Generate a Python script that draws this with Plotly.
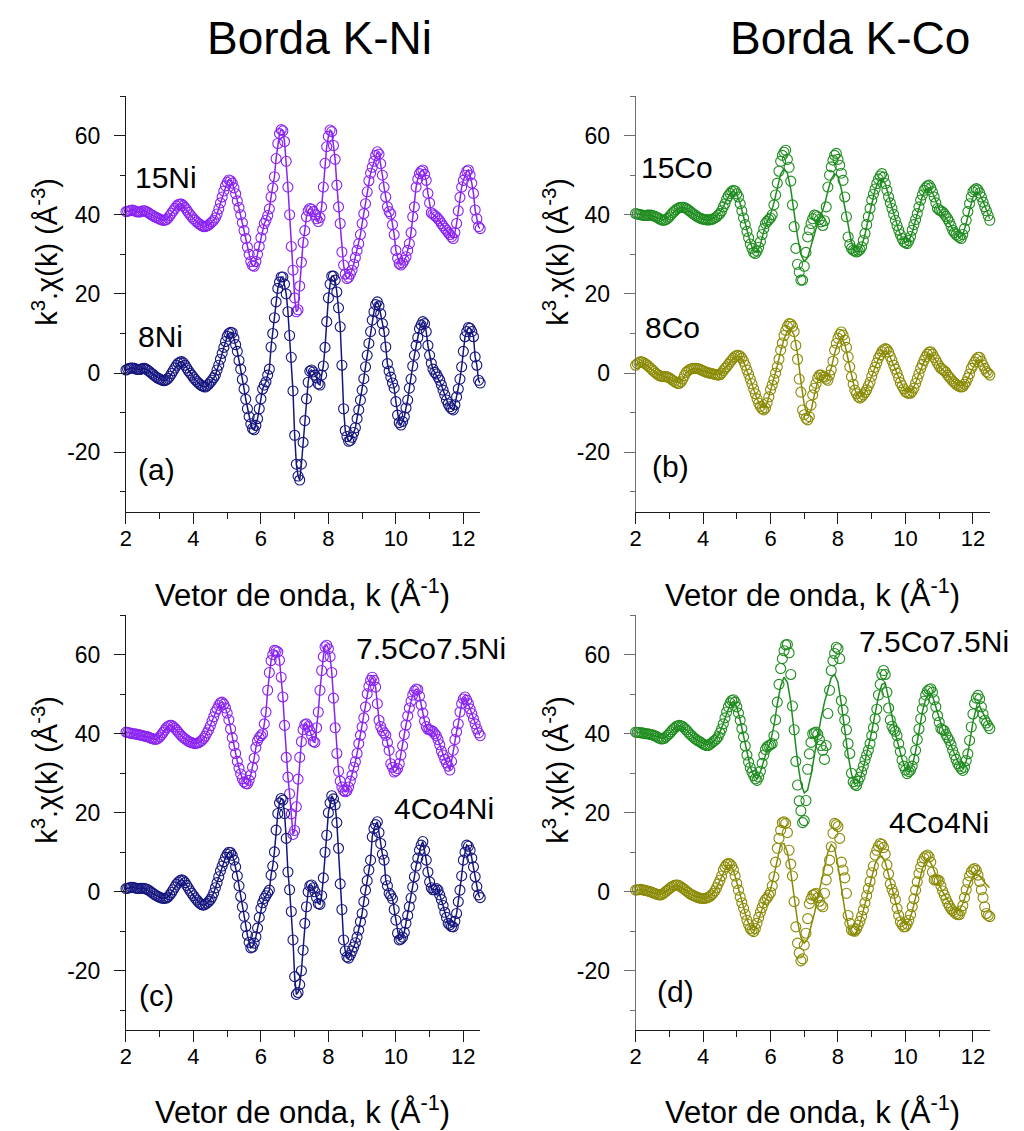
import numpy as np
import plotly.graph_objects as go

# k grids (Å^-1): values read at whole tenths and at the half-steps in between
K = np.round(np.arange(2.0, 12.501, 0.1), 2)
KH = np.round(np.arange(2.05, 12.46, 0.1), 2)

# ---------- Panel (a): Ni K-edge ----------
NI15 = [40.8, 41.0, 41.2, 40.8, 40.7, 41.0, 40.8, 40.3, 39.8, 39.3,
        38.9, 38.6, 38.8, 39.8, 41.0, 42.2, 42.7, 42.3, 41.2, 40.0,
        39.0, 38.2, 37.5, 37.0, 37.2, 37.8, 38.6, 40.2, 43.0, 46.0,
        48.2, 48.6, 46.8, 43.5, 40.0, 36.0, 31.8, 28.2, 27.0, 30.0,
        34.2, 37.8, 39.8, 44.5, 49.6, 58.0, 61.5, 58.5, 47.0, 32.0,
        19.0, 16.0, 28.0, 36.0, 41.0, 41.4, 40.0, 38.3, 42.0, 53.0,
        59.8, 61.0, 54.0, 42.0, 30.6, 25.0, 24.2, 26.0, 29.2, 32.7,
        37.8, 42.8, 48.6, 52.0, 55.0, 55.3, 50.0, 44.5, 40.8, 37.5,
        31.0, 27.7, 27.8, 29.4, 32.7, 39.5, 47.0, 50.4, 51.3, 48.7,
        43.0, 40.2, 39.5, 38.5, 37.2, 36.1, 35.0, 34.0, 37.8, 44.4,
        48.7, 51.0, 50.0, 45.4, 39.0, 36.5]
NI15_H = [40.9, 41.1, 41.0, 40.7, 40.8, 41.0, 40.6, 40.0, 39.5, 39.1,
          38.7, 38.6, 39.2, 40.4, 41.6, 42.6, 42.7, 41.8, 40.6, 39.5,
          38.6, 37.8, 37.2, 37.0, 37.4, 38.2, 39.2, 41.5, 44.5, 47.3,
          48.8, 48.0, 45.3, 41.8, 38.0, 34.0, 30.0, 27.2, 28.2, 32.0,
          36.2, 38.6, 41.5, 46.8, 54.2, 60.5, 61.2, 53.5, 40.0, 26.0,
          15.5, 22.0, 33.0, 39.5, 41.6, 40.8, 39.0, 39.3, 47.0, 57.2,
          61.4, 57.5, 47.5, 37.8, 27.3, 23.9, 25.0, 27.5, 31.0, 35.0,
          40.3, 45.8, 50.5, 53.5, 55.9, 52.9, 47.0, 42.0, 40.2, 35.0,
          29.0, 27.3, 28.5, 31.0, 35.5, 42.0, 49.0, 51.0, 50.2, 45.4,
          40.5, 39.8, 39.0, 37.8, 36.6, 35.5, 34.4, 35.5, 41.0, 47.0,
          50.0, 51.3, 48.0, 41.2, 37.0]
NI8 = [0.8, 1.2, 1.3, 1.0, 0.9, 1.2, 1.0, 0.4, -0.3, -1.0,
       -1.5, -1.9, -1.7, -0.8, 0.6, 2.0, 2.8, 2.6, 1.3, 0.0,
       -1.1, -2.1, -2.9, -3.4, -3.2, -2.3, -1.2, 0.8, 3.5, 6.5,
       9.3, 10.3, 8.8, 5.5, 1.0, -4.0, -9.0, -12.8, -14.3, -11.5,
       -6.5, -3.0, -0.5, 6.6, 14.0, 21.4, 24.3, 22.5, 15.5, 4.0,
       -15.7, -26.0, -23.0, -12.0, -2.3, 0.8, -0.5, -2.7, -0.5, 6.5,
       19.0, 24.5, 23.5, 16.5, 2.0, -14.5, -17.2, -16.2, -13.8, -9.3,
       -4.3, 1.6, 7.5, 13.4, 17.3, 17.0, 12.5, 6.6, 0.5, -2.5,
       -7.2, -12.5, -12.2, -8.8, -3.8, 1.8, 7.0, 11.2, 13.0, 10.5,
       4.5, 1.0, -0.2, -1.8, -4.3, -6.8, -8.5, -9.3, -6.0, -1.5,
       5.5, 10.5, 11.3, 9.2, 2.0, -2.5]
NI8_H = [1.0, 1.3, 1.2, 0.9, 1.0, 1.2, 0.7, 0.0, -0.7, -1.3,
         -1.7, -1.9, -1.3, -0.1, 1.3, 2.5, 2.9, 2.0, 0.6, -0.5,
         -1.6, -2.5, -3.2, -3.5, -2.8, -1.8, -0.5, 2.0, 5.0, 8.0,
         10.0, 10.2, 7.2, 3.2, -1.6, -6.6, -11.0, -14.0, -13.2, -9.0,
         -4.0, -2.2, 1.0, 10.0, 18.0, 23.0, 24.3, 20.0, 9.5, -4.5,
         -23.0, -27.0, -17.5, -6.5, 0.5, 0.3, -1.2, -3.0, 1.8, 13.0,
         22.5, 24.5, 20.5, 11.7, -9.0, -16.0, -17.0, -15.0, -11.5, -6.8,
         -1.4, 4.5, 10.5, 15.5, 18.0, 15.0, 10.5, 2.4, -1.0, -3.8,
         -10.6, -13.1, -11.0, -6.8, -1.5, 4.5, 9.0, 12.2, 12.5, 7.0,
         2.5, 0.2, -1.0, -3.0, -5.5, -7.8, -9.0, -8.0, -4.0, 1.6,
         9.2, 11.5, 10.5, 4.1, -1.8]

# ---------- Panel (b): Co K-edge ----------
CO15 = [40.3, 40.1, 39.9, 39.8, 39.9, 39.8, 39.5, 39.0, 38.6, 38.8,
        39.5, 40.5, 41.3, 41.8, 41.9, 41.6, 41.0, 40.3, 39.7, 39.2,
        38.9, 38.7, 38.7, 39.0, 39.5, 40.3, 42.0, 44.0, 45.4, 46.2,
        45.3, 42.8, 39.2, 35.8, 32.6, 30.5, 30.8, 33.2, 36.5, 38.3,
        39.2, 42.5, 48.0, 53.5, 55.8, 54.0, 48.5, 37.0, 27.5, 23.5,
        27.0, 34.4, 37.8, 39.9, 39.5, 38.2, 38.5, 47.0, 52.1, 55.0,
        54.0, 50.5, 44.5, 34.4, 31.5, 30.8, 30.8, 31.9, 35.3, 39.5,
        43.7, 46.5, 49.0, 50.4, 47.9, 44.5, 41.6, 38.6, 36.1, 34.0,
        32.9, 33.5, 36.1, 38.8, 42.0, 45.0, 46.8, 47.5, 45.8, 43.0,
        41.2, 40.7, 39.6, 38.2, 36.1, 35.0, 34.3, 35.0, 38.6, 42.8,
        45.8, 46.6, 45.5, 43.2, 41.0, 38.6]
CO15_H = [40.2, 40.0, 39.8, 39.9, 39.9, 39.7, 39.3, 38.8, 38.6, 39.1,
          40.0, 40.9, 41.6, 41.9, 41.8, 41.3, 40.6, 40.0, 39.4, 39.0,
          38.8, 38.7, 38.8, 39.2, 39.9, 41.0, 42.8, 44.8, 45.9, 46.0,
          44.5, 41.0, 37.5, 34.2, 31.5, 30.2, 31.8, 35.0, 37.8, 38.8,
          40.0, 45.0, 51.0, 55.0, 56.3, 52.0, 42.5, 31.5, 25.5, 23.5,
          30.5, 36.2, 39.0, 39.8, 38.8, 37.3, 42.0, 50.0, 53.8, 55.5,
          52.5, 48.7, 39.5, 32.5, 31.0, 30.6, 31.2, 33.5, 37.5, 41.6,
          45.2, 47.9, 49.8, 49.5, 46.2, 43.0, 40.1, 37.3, 35.0, 33.2,
          32.7, 34.5, 37.5, 40.3, 43.7, 46.2, 47.3, 46.8, 44.5, 41.6,
          41.0, 40.2, 39.0, 37.2, 35.5, 34.6, 34.0, 36.5, 40.8, 44.5,
          46.3, 46.3, 44.5, 42.0, 39.8]
CO15_FIT = [40.3, 40.1, 39.9, 39.8, 39.8, 39.7, 39.4, 39.0, 38.7, 38.9,
            39.5, 40.4, 41.2, 41.7, 41.8, 41.5, 41.0, 40.3, 39.7, 39.2,
            38.9, 38.7, 38.8, 39.1, 39.7, 40.6, 42.0, 43.8, 45.2, 45.9,
            45.2, 42.8, 39.4, 36.0, 33.0, 30.8, 30.5, 32.5, 35.8, 38.2,
            40.0, 43.0, 47.0, 50.3, 51.6, 50.5, 46.5, 40.5, 34.5, 30.0,
            28.2, 29.2, 32.0, 35.3, 38.0, 40.0, 42.5, 46.0, 49.0, 50.4,
            49.6, 46.5, 42.0, 37.0, 33.0, 30.8, 30.6, 32.0, 35.0, 39.0,
            43.0, 46.3, 48.5, 49.2, 47.8, 44.8, 41.5, 38.5, 36.0, 34.0,
            33.0, 33.4, 35.5, 38.6, 41.8, 44.6, 46.4, 46.8, 45.6, 43.4,
            41.4, 40.2, 39.2, 37.9, 36.3, 35.0, 34.3, 35.0, 37.8, 41.5,
            44.5, 45.8, 45.2, 43.4, 41.2, 39.0]
CO8 = [2.0, 2.7, 2.8, 2.3, 1.6, 0.8, 0.0, -0.6, -0.9, -0.8,
       -1.2, -1.8, -2.4, -2.6, -1.5, 0.2, 0.9, 1.2, 1.2, 1.0,
       0.6, 0.2, 0.0, -0.2, -0.4, -0.4, 0.6, 1.6, 2.8, 3.8,
       4.5, 4.3, 3.0, 0.8, -1.5, -4.0, -6.5, -8.4, -9.3, -7.5,
       -4.2, -1.6, 1.6, 5.8, 9.5, 11.8, 12.4, 10.5, 3.5, -4.8,
       -10.5, -11.8, -8.1, -3.8, -1.2, -0.5, -1.0, -1.8, 0.8, 5.8,
       8.8, 10.4, 8.3, 4.1, -0.9, -4.3, -6.0, -6.0, -4.9, -3.2,
       -0.8, 1.5, 3.8, 5.4, 6.2, 5.3, 3.2, 1.0, -1.2, -3.2,
       -4.7, -5.1, -4.6, -2.6, -0.2, 2.2, 4.1, 5.3, 4.8, 3.3,
       1.8, 0.9, 0.2, -1.0, -2.0, -2.8, -3.4, -3.4, -2.2, -0.2,
       2.0, 3.5, 4.0, 2.0, 0.4, -0.5]
CO8_H = [2.4, 2.9, 2.6, 2.0, 1.2, 0.4, -0.3, -0.8, -0.9, -1.0,
         -1.5, -2.1, -2.6, -2.2, -0.6, 0.6, 1.1, 1.2, 1.1, 0.8,
         0.4, 0.1, -0.1, -0.3, -0.5, 0.0, 1.2, 2.2, 3.3, 4.2,
         4.5, 3.8, 2.0, -0.3, -2.7, -5.2, -7.6, -9.0, -8.8, -6.0,
         -3.0, 0.0, 3.5, 7.6, 10.8, 12.5, 11.8, 7.0, -1.5, -9.3,
         -11.4, -11.0, -5.5, -2.6, -0.5, -0.9, -1.5, -0.5, 3.0, 7.5,
         9.8, 9.6, 6.5, 1.6, -2.8, -5.2, -6.3, -5.5, -4.2, -2.3,
         0.5, 2.6, 4.6, 5.9, 6.0, 4.2, 2.0, 0.0, -2.4, -4.0,
         -5.0, -5.1, -3.8, -1.4, 1.2, 3.2, 4.8, 5.4, 4.0, 2.5,
         1.2, 0.6, -0.5, -1.5, -2.4, -3.1, -3.5, -2.8, -1.2, 1.2,
         2.8, 4.0, 3.0, 1.2, 0.0]
CO8_FIT = [2.0, 2.6, 2.7, 2.2, 1.5, 0.8, 0.0, -0.5, -0.8, -0.9,
           -1.2, -1.8, -2.3, -2.4, -1.5, 0.0, 0.8, 1.1, 1.1, 0.9,
           0.6, 0.2, 0.0, -0.2, -0.3, -0.2, 0.6, 1.6, 2.8, 3.8,
           4.3, 4.1, 2.9, 0.8, -1.6, -4.1, -6.5, -8.2, -8.8, -7.5,
           -4.5, -1.5, 1.8, 5.5, 8.6, 10.6, 11.2, 9.6, 5.0, -2.0,
           -8.0, -10.8, -9.5, -5.5, -2.0, -0.5, -0.6, -0.8, 1.2, 5.0,
           7.8, 8.8, 7.4, 3.6, -0.8, -4.2, -5.8, -5.9, -4.8, -3.0,
           -0.8, 1.5, 3.6, 5.0, 5.6, 4.9, 3.0, 0.9, -1.2, -3.0,
           -4.4, -4.8, -4.3, -2.5, -0.2, 2.0, 3.8, 4.8, 4.5, 3.2,
           1.8, 0.9, 0.1, -0.9, -1.9, -2.7, -3.2, -3.2, -2.2, -0.4,
           1.6, 3.0, 3.4, 2.2, 0.6, -0.5]

# ---------- Panel (c): Ni K-edge, mixed samples ----------
CONI75_NI = [40.4, 40.2, 40.0, 39.9, 39.7, 39.5, 39.3, 39.0, 38.7, 38.6,
             39.2, 40.3, 41.5, 42.1, 41.8, 40.9, 39.9, 39.0, 38.4, 37.9,
             37.6, 37.6, 38.0, 38.8, 40.2, 42.0, 44.3, 46.3, 47.8, 47.5,
             45.2, 41.2, 37.0, 33.0, 29.8, 27.8, 27.3, 29.6, 33.8, 38.2,
             39.5, 42.5, 51.0, 58.5, 61.1, 60.7, 54.3, 42.1, 29.0, 19.7,
             15.5, 28.5, 38.0, 42.3, 41.8, 39.6, 37.8, 45.5, 56.0, 62.0,
             61.5, 55.5, 41.5, 30.5, 26.5, 25.3, 26.5, 29.5, 32.9, 37.5,
             41.7, 46.8, 52.0, 54.3, 51.8, 43.4, 40.8, 39.6, 35.8, 31.5,
             30.6, 32.4, 37.0, 42.2, 46.5, 49.8, 51.3, 49.5, 45.2, 41.8,
             41.0, 40.6, 39.5, 37.2, 34.6, 32.6, 30.8, 35.8, 40.5, 45.5,
             48.8, 48.5, 46.3, 43.8, 41.2, 39.5]
CONI75_NI_H = [40.3, 40.1, 40.0, 39.8, 39.6, 39.4, 39.2, 38.8, 38.6, 38.8,
               39.7, 40.9, 41.9, 42.1, 41.4, 40.4, 39.4, 38.7, 38.1, 37.7,
               37.5, 37.7, 38.3, 39.4, 41.0, 43.2, 45.5, 47.2, 48.0, 46.5,
               43.5, 39.0, 35.0, 31.3, 28.6, 27.4, 28.2, 31.5, 36.5, 39.0,
               40.0, 45.5, 55.5, 60.0, 61.0, 58.6, 49.3, 34.0, 24.8, 14.5,
               21.5, 34.0, 41.0, 42.5, 40.8, 38.0, 41.5, 51.0, 59.5, 62.4,
               59.5, 49.0, 35.0, 28.0, 25.6, 25.6, 28.0, 31.5, 35.0, 39.6,
               44.0, 50.1, 53.5, 53.5, 47.6, 41.8, 40.2, 37.8, 32.4, 30.3,
               31.2, 34.6, 39.8, 44.5, 48.2, 50.8, 51.2, 47.3, 43.2, 41.1,
               40.8, 40.0, 38.5, 35.6, 33.5, 31.8, 33.0, 38.5, 42.5, 47.6,
               49.3, 47.6, 45.1, 42.5, 40.2]
CONI4_NI = [0.8, 1.0, 1.1, 0.9, 0.8, 0.9, 0.7, 0.2, -0.4, -1.0,
            -1.4, -1.7, -1.6, -0.8, 0.5, 1.9, 2.8, 2.8, 1.6, 0.2,
            -1.0, -2.1, -3.0, -3.4, -2.9, -2.0, -0.3, 2.3, 5.3, 7.6,
            9.5, 9.9, 8.0, 4.0, -1.2, -6.2, -11.0, -14.2, -13.0, -9.2,
            -4.2, -1.7, -0.3, 4.2, 10.1, 19.8, 23.6, 19.8, 5.0, -5.0,
            -21.5, -25.5, -20.0, -8.0, 0.0, 1.7, 0.0, -3.0, -1.0, 10.0,
            20.0, 24.3, 22.0, 11.0, -4.5, -15.0, -16.8, -15.0, -12.9, -9.7,
            -5.5, 0.4, 5.5, 13.9, 17.0, 15.0, 9.5, 3.0, -0.4, -1.8,
            -7.2, -12.2, -11.5, -8.0, -3.8, 1.2, 6.5, 10.5, 12.7, 8.0,
            2.5, 0.5, 0.8, -0.8, -3.5, -6.5, -8.4, -8.9, -5.5, 0.4,
            8.0, 11.8, 10.5, 6.3, 1.3, -1.5]
CONI4_NI_H = [0.9, 1.1, 1.0, 0.8, 0.9, 0.8, 0.5, -0.1, -0.7, -1.2,
              -1.6, -1.7, -1.3, -0.2, 1.2, 2.4, 3.0, 2.3, 0.9, -0.4,
              -1.6, -2.6, -3.3, -3.2, -2.5, -1.3, 1.0, 3.8, 6.5, 8.7,
              10.0, 9.2, 6.3, 1.5, -3.8, -8.8, -12.8, -14.0, -11.4, -6.5,
              -2.8, -1.0, 0.4, 6.5, 15.6, 22.5, 23.2, 13.5, 0.5, -12.2,
              -26.0, -23.5, -14.8, -3.8, 1.5, 1.0, -1.5, -3.2, 3.5, 14.3,
              22.5, 23.5, 17.5, 2.0, -12.2, -16.5, -16.0, -14.0, -11.5, -7.6,
              -2.5, 2.8, 8.0, 16.0, 17.7, 12.2, 8.0, 1.5, -1.0, -4.5,
              -10.5, -12.0, -10.3, -6.0, -1.6, 3.8, 8.5, 11.8, 10.5, 5.0,
              1.0, 0.5, 0.4, -2.0, -5.2, -8.0, -8.8, -7.5, -2.5, 4.0,
              10.0, 11.5, 8.5, 3.8, -0.8]

# ---------- Panel (d): Co K-edge, mixed samples ----------
CONI75_CO = [40.4, 40.3, 40.2, 40.0, 39.9, 39.7, 39.4, 38.9, 38.7, 39.2,
             40.0, 41.0, 41.8, 42.1, 41.8, 41.0, 40.0, 39.2, 38.5, 38.0,
             37.4, 37.0, 37.3, 38.0, 38.7, 40.2, 42.5, 45.5, 47.8, 48.6,
             46.8, 43.4, 39.2, 34.6, 31.4, 29.4, 28.2, 30.5, 34.6, 36.7,
             37.2, 39.5, 48.0, 56.5, 61.0, 62.6, 55.0, 41.0, 27.0, 20.5,
             18.0, 31.0, 37.8, 40.2, 39.8, 37.0, 33.5, 45.1, 56.0, 60.3,
             61.5, 48.4, 43.5, 37.5, 30.0, 27.2, 28.0, 30.4, 33.3, 35.8,
             39.5, 43.8, 49.8, 55.0, 55.0, 46.5, 41.9, 40.6, 37.5, 33.3,
             30.8, 30.4, 31.8, 35.8, 41.2, 46.3, 49.8, 51.2, 50.5, 46.8,
             42.9, 41.0, 39.8, 38.3, 35.8, 33.5, 31.8, 30.7, 33.2, 38.3,
             45.0, 49.0, 48.8, 45.0, 42.7, 41.3]
CONI75_CO_H = [40.3, 40.2, 40.1, 40.0, 39.8, 39.5, 39.1, 38.7, 38.8, 39.6,
               40.5, 41.4, 42.0, 42.0, 41.4, 40.5, 39.6, 38.8, 38.2, 37.7,
               37.2, 37.0, 37.6, 38.3, 39.3, 41.2, 44.0, 46.8, 48.4, 48.0,
               45.2, 41.3, 36.9, 32.8, 30.3, 28.6, 29.0, 32.5, 36.0, 37.0,
               37.5, 43.5, 52.5, 59.0, 62.5, 60.5, 47.0, 33.0, 23.0, 17.5,
               23.1, 34.9, 40.0, 40.4, 38.5, 35.8, 37.0, 51.0, 58.5, 61.9,
               59.0, 46.0, 41.0, 35.0, 27.8, 26.9, 29.0, 31.8, 34.6, 37.5,
               41.5, 46.2, 52.5, 56.0, 50.5, 43.5, 41.0, 39.5, 35.5, 31.8,
               29.9, 30.8, 33.5, 38.5, 43.8, 48.2, 50.8, 51.4, 48.6, 44.6,
               41.3, 40.8, 39.0, 37.2, 34.6, 32.4, 31.2, 31.5, 34.9, 41.7,
               47.6, 49.7, 46.8, 43.4, 42.0]
CONI75_CO_FIT = [40.4, 40.3, 40.2, 40.0, 39.9, 39.7, 39.4, 39.0, 38.8, 39.2,
                 40.0, 41.0, 41.7, 42.0, 41.7, 41.0, 40.0, 39.2, 38.5, 38.0,
                 37.5, 37.2, 37.4, 38.0, 38.9, 40.4, 42.6, 45.3, 47.4, 48.2,
                 46.8, 43.4, 39.3, 35.0, 31.6, 29.4, 28.6, 30.3, 33.5, 36.0,
                 38.0, 42.0, 47.5, 52.0, 54.3, 53.0, 48.0, 40.5, 33.0, 27.5,
                 25.0, 25.8, 29.5, 34.5, 39.5, 44.0, 48.0, 51.5, 54.2, 55.0,
                 53.0, 47.5, 41.0, 34.5, 29.8, 27.4, 27.6, 29.8, 33.0, 36.5,
                 40.5, 45.0, 49.5, 52.5, 52.8, 49.0, 44.0, 40.0, 36.8, 33.5,
                 31.0, 30.3, 31.8, 35.5, 40.5, 45.5, 48.8, 50.2, 49.6, 46.8,
                 43.4, 41.2, 39.8, 38.2, 36.0, 33.8, 32.0, 31.2, 33.0, 37.5,
                 43.0, 46.5, 47.0, 45.2, 43.3, 41.8]
CONI4_CO = [0.4, 0.5, 0.5, 0.3, 0.1, -0.2, -0.5, -0.8, -0.6, 0.1,
            0.8, 1.4, 1.7, 1.5, 0.9, 0.2, -0.4, -0.9, -1.3, -1.6,
            -1.7, -1.6, -1.2, -0.4, 1.0, 2.9, 5.5, 6.9, 7.0, 5.5,
            2.1, -1.3, -4.2, -7.2, -9.3, -10.1, -8.0, -5.2, -2.8, -1.6,
            -0.2, 3.8, 11.0, 15.6, 17.7, 15.0, 7.0, -2.5, -13.0, -17.5,
            -13.5, -6.8, -1.8, -0.6, -1.5, -3.4, -0.4, 5.5, 11.4, 17.3,
            16.5, 7.5, 3.5, -6.0, -9.7, -10.0, -8.5, -6.2, -2.8, 0.8,
            4.8, 9.3, 11.5, 12.0, 9.5, 4.5, 0.6, -2.0, -6.0, -8.3,
            -8.8, -7.2, -3.8, 0.4, 4.6, 7.6, 9.0, 8.8, 5.0, 3.0,
            2.8, 0.2, -1.8, -3.6, -4.8, -5.6, -5.8, -3.5, 0.5, 4.0,
            5.6, 5.4, 2.6, -1.5, -5.5, -6.3]
CONI4_CO_H = [0.5, 0.6, 0.4, 0.2, 0.0, -0.4, -0.7, -0.8, -0.3, 0.4,
              1.1, 1.6, 1.7, 1.2, 0.6, -0.1, -0.7, -1.1, -1.5, -1.7,
              -1.7, -1.4, -0.8, 0.2, 2.0, 4.0, 6.3, 7.2, 6.5, 4.0,
              0.4, -2.8, -5.7, -8.3, -9.8, -9.3, -6.5, -4.0, -2.0, -0.9,
              1.5, 7.5, 13.5, 17.5, 17.3, 10.5, 4.0, -8.9, -15.5, -17.0,
              -10.5, -3.0, -0.9, -0.4, -2.4, -3.8, 3.0, 8.0, 14.8, 17.0,
              13.5, 5.5, -0.4, -8.0, -9.9, -9.4, -7.5, -4.6, -1.0, 2.6,
              6.5, 10.5, 12.2, 11.2, 6.8, 2.0, -0.4, -4.2, -7.6, -8.9,
              -8.2, -5.8, -1.8, 2.5, 6.2, 8.5, 9.3, 7.5, 3.0, 3.0,
              1.5, -0.8, -2.8, -4.3, -5.2, -5.8, -4.8, -1.5, 2.4, 5.0,
              5.9, 4.2, 0.5, -3.8, -6.0]
CONI4_CO_FIT = [0.4, 0.5, 0.5, 0.3, 0.1, -0.2, -0.5, -0.7, -0.5, 0.1,
                0.8, 1.3, 1.6, 1.4, 0.9, 0.2, -0.4, -0.9, -1.3, -1.5,
                -1.6, -1.5, -1.1, -0.3, 1.0, 2.9, 5.0, 6.5, 6.8, 5.4,
                2.4, -1.0, -4.1, -7.0, -9.0, -9.8, -8.4, -5.6, -3.0, -1.4,
                0.5, 4.0, 8.5, 12.0, 12.2, 10.0, 5.0, -1.5, -7.5, -11.5,
                -13.0, -12.0, -9.0, -5.5, -1.5, 2.5, 6.5, 10.0, 12.0, 11.0,
                6.5, 1.0, -4.5, -8.5, -10.5, -11.0, -9.5, -6.5, -3.0, 0.5,
                4.0, 7.0, 8.8, 9.0, 7.5, 4.5, 1.0, -2.5, -5.5, -7.5,
                -8.3, -7.5, -5.0, -1.5, 2.5, 5.8, 7.8, 8.0, 6.5, 4.0,
                1.8, 0.0, -1.5, -3.0, -4.2, -4.8, -4.6, -3.0, -0.5, 2.0,
                3.8, 4.5, 4.0, 2.8, 1.8, 1.0]

Y_TICKS = [-20, 0, 20, 40, 60]
Y_TICKTEXT = ["-20", "0", "20", "40", "60"]

# ---------- styling ----------
W, H = 1024, 1131
FONT = "Liberation Sans, Arial, sans-serif"
PURPLE = "#8A22F2"
NAVY = "#15157F"
GREEN = "#1E8C1E"
OLIVE = "#8A8A05"


def px(x):
    return x / W


def py(y):
    return 1 - y / H


def merged(full, half):
    kk = np.concatenate([K, KH])
    vv = np.concatenate([np.asarray(full, float), np.asarray(half, float)])
    order = np.argsort(kk)
    return kk[order], vv[order]


XD_L = [px(120.7), px(477.0)]
XD_R = [px(633.3), px(989.6)]
YD_T = [py(511.7), py(96.0)]
YD_B = [py(1030.0), py(615.2)]

# (suffix, xdomain, ydomain, [(data, half-step data, fit or None, colour)], y-axis colour)
panels = [
    ("", XD_L, YD_T, [(NI15, NI15_H, None, PURPLE), (NI8, NI8_H, None, NAVY)], "#1a1a1a"),
    ("2", XD_R, YD_T, [(CO15, CO15_H, CO15_FIT, GREEN), (CO8, CO8_H, CO8_FIT, OLIVE)], "#6e6e6e"),
    ("3", XD_L, YD_B, [(CONI75_NI, CONI75_NI_H, None, PURPLE), (CONI4_NI, CONI4_NI_H, None, NAVY)], "#1a1a1a"),
    ("4", XD_R, YD_B, [(CONI75_CO, CONI75_CO_H, CONI75_CO_FIT, GREEN),
                       (CONI4_CO, CONI4_CO_H, CONI4_CO_FIT, OLIVE)], "#6e6e6e"),
]

fig = go.Figure()
layout = dict(
    width=W, height=H, autosize=False,
    margin=dict(l=0, r=0, t=0, b=0),
    paper_bgcolor="white", plot_bgcolor="white",
    showlegend=False,
    font=dict(family=FONT, color="black"),
)

for suf, xd, yd, series, ycol in panels:
    xa = "x" + suf
    ya = "y" + suf
    for data, half, fit, col in series:
        kk, vv = merged(data, half)
        fig.add_trace(go.Scatter(
            x=kk, y=vv, mode="markers", xaxis=xa, yaxis=ya,
            marker=dict(symbol="circle-open", size=10, color=col,
                        line=dict(width=1.1, color=col)),
            cliponaxis=False, hoverinfo="skip"))
        if fit is None:
            lx, ly = kk, vv          # fit coincides with the data in the Ni panels
        else:
            lx, ly = K, fit
        fig.add_trace(go.Scatter(
            x=lx, y=ly, mode="lines", xaxis=xa, yaxis=ya,
            line=dict(color=col, width=1.5),
            cliponaxis=True, hoverinfo="skip"))
    layout["xaxis" + suf] = dict(
        domain=xd, anchor=ya, range=[2, 12.5],
        showline=True, linecolor="#1a1a1a", linewidth=1,
        ticks="outside", ticklen=11, tickwidth=1, tickcolor="#1a1a1a",
        tick0=0, dtick=2,
        minor=dict(dtick=1, ticks="outside", ticklen=6, tickwidth=1, tickcolor="#1a1a1a"),
        showgrid=False, zeroline=False,
        ticklabelstandoff=-4,
        tickfont=dict(family=FONT, size=22, color="black"),
    )
    layout["yaxis" + suf] = dict(
        domain=yd, anchor=xa, range=[-35, 70],
        showline=True, linecolor=ycol, linewidth=1,
        ticks="outside", ticklen=11, tickwidth=1, tickcolor=ycol,
        tickmode="array", tickvals=Y_TICKS, ticktext=Y_TICKTEXT,
        minor=dict(tickmode="linear", tick0=-30, dtick=20, ticks="outside",
                   ticklen=5, tickwidth=1, tickcolor=ycol),
        showgrid=False, zeroline=False,
        ticklabelstandoff=9,
        tickfont=dict(family=FONT, size=23, color="black"),
    )

annotations = []


def ann(text, x, y, size, xanchor="left", angle=0):
    annotations.append(dict(
        text=text, x=px(x), y=py(y), xref="paper", yref="paper",
        xanchor=xanchor, yanchor="middle", showarrow=False, textangle=angle,
        font=dict(family=FONT, size=size, color="black")))


ann("Borda K-Ni", 315, 38, 46, "center")
ann("Borda K-Co", 849, 38, 46, "center")

XT = "Vetor de onda, k (Å<sup>-1</sup>)"
YT = "k<sup>3</sup>.χ(k) (Å<sup>-3</sup>)"
for cx in (298, 811):
    ann(XT, cx, 593, 31, "center")
    ann(XT, cx, 1110, 31, "center")
for cx in (39, 553):
    ann(YT, cx, 252, 29, "center", -90)
    ann(YT, cx, 770, 29, "center", -90)

ann("15Ni", 128, 178, 30)
ann("8Ni", 131, 336, 30)
ann("(a)", 131, 470, 30)
ann("15Co", 637, 167, 30)
ann("8Co", 641, 328, 30)
ann("(b)", 648, 466, 30)
ann("7.5Co7.5Ni", 350, 648, 30)
ann("4Co4Ni", 388, 808, 30)
ann("(c)", 132, 996, 30)
ann("7.5Co7.5Ni", 856, 642, 30)
ann("4Co4Ni", 886, 822, 30)
ann("(d)", 653, 991, 30)

layout["annotations"] = annotations
fig.update_layout(**layout)

fig.write_html("out.html", config={"displayModeBar": False},
               post_script="document.body.style.margin='0px';")
